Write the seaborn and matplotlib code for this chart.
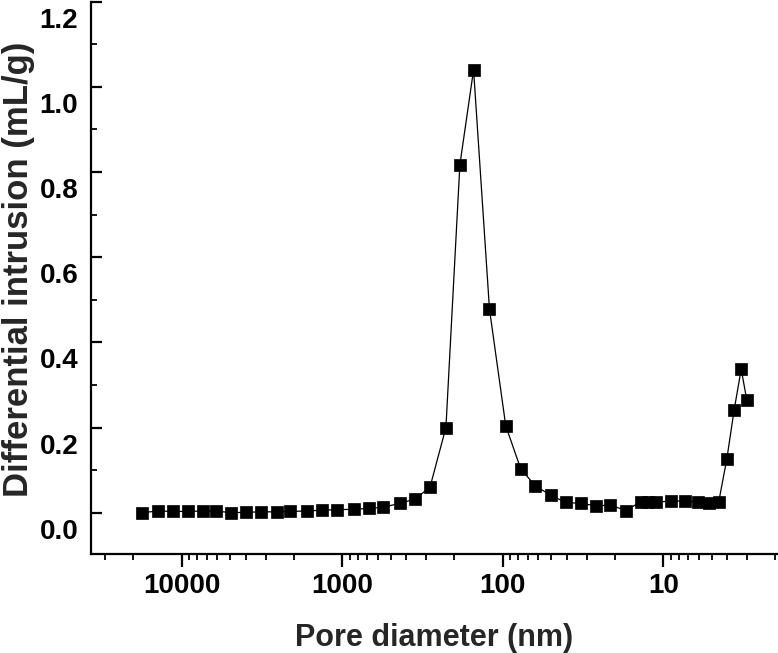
import matplotlib
matplotlib.use("Agg")
import matplotlib.pyplot as plt
import matplotlib.transforms as mtransforms
from matplotlib.ticker import FixedLocator, LogLocator, NullFormatter, MultipleLocator
import seaborn as sns
import pandas as pd

# Data (pore diameter in nm, differential intrusion in mL/g)
pore_diameter = [17750, 13990, 11380, 9100, 7330, 6110, 4950, 3970, 3220, 2560,
                 2110, 1650, 1340, 1080, 844, 677, 555, 437, 352, 284,
                 226, 185, 152, 121, 95.8, 77.3, 62.7, 50.2, 40.5, 32.6,
                 26.2, 21.4, 17.1, 13.8, 12.4, 11.1, 8.98, 7.28, 6.04, 5.21,
                 4.51, 4.02, 3.62, 3.27, 3.02]
intrusion = [0.000, 0.004, 0.003, 0.003, 0.004, 0.004, 0.000, 0.001, 0.002, 0.002,
             0.003, 0.004, 0.006, 0.007, 0.008, 0.010, 0.013, 0.022, 0.032, 0.060,
             0.200, 0.817, 1.040, 0.478, 0.204, 0.103, 0.063, 0.041, 0.024, 0.022,
             0.016, 0.018, 0.005, 0.026, 0.024, 0.024, 0.028, 0.027, 0.026, 0.023,
             0.026, 0.126, 0.241, 0.337, 0.265]

x_ticks = [10000, 1000, 100, 10]
x_tick_labels = ["10000", "1000", "100", "10"]
y_ticks = [0.0, 0.2, 0.4, 0.6, 0.8, 1.0, 1.2]
y_tick_labels = ["0.0", "0.2", "0.4", "0.6", "0.8", "1.0", "1.2"]

df = pd.DataFrame({"d": pore_diameter, "v": intrusion})

sns.set_style("ticks")
plt.rcParams["font.family"] = ["Liberation Sans", "DejaVu Sans"]
plt.rcParams["font.weight"] = "bold"

fig = plt.figure(figsize=(7.78, 6.53), dpi=100)
ax = fig.add_axes([90.7 / 778, 99 / 653, (777 - 90.7) / 778, (554 - 1.7) / 653])

sns.lineplot(data=df, x="d", y="v", ax=ax, sort=False, color="black",
             linewidth=0.9, marker="s", markersize=8.6, markeredgecolor="black",
             markerfacecolor="black", markeredgewidth=0.5)

ax.set_xscale("log")
ax.set_xlim(36900, 1.957)
ax.set_ylim(-0.097, 1.2)

ax.xaxis.set_major_locator(FixedLocator(x_ticks))
ax.set_xticklabels(x_tick_labels)
ax.xaxis.set_minor_locator(LogLocator(base=10, subs=range(2, 10), numticks=20))
ax.xaxis.set_minor_formatter(NullFormatter())

ax.yaxis.set_major_locator(FixedLocator(y_ticks))
ax.set_yticklabels(y_tick_labels)
ax.yaxis.set_minor_locator(MultipleLocator(0.1))

for s in ["top", "right"]:
    ax.spines[s].set_visible(False)
for s in ["left", "bottom"]:
    ax.spines[s].set_linewidth(1.6)
    ax.spines[s].set_color("black")

ax.tick_params(axis="x", which="major", direction="out", length=9, width=1.6,
               labelsize=20, pad=5, colors="black")
ax.tick_params(axis="x", which="minor", direction="out", length=4.5, width=1.3, colors="black")
ax.tick_params(axis="y", which="major", direction="in", length=8, width=1.6,
               labelsize=20, pad=9, colors="black")
ax.tick_params(axis="y", which="minor", direction="in", length=4.5, width=1.3, colors="black")

for lab in ax.get_xticklabels() + ax.get_yticklabels():
    lab.set_fontweight("bold")

offset = mtransforms.ScaledTranslation(0, -16 / 100, fig.dpi_scale_trans)
for t in ax.yaxis.get_major_ticks():
    t.label1.set_transform(t.label1.get_transform() + offset)

ax.set_xlabel("Pore diameter (nm)", fontsize=22, fontweight="bold", labelpad=17)
ax.set_ylabel("Differential intrusion (mL/g)", fontsize=25, fontweight="bold")
ax.yaxis.set_label_coords(-0.081, 0.515)

fig.savefig("out.png", dpi=100, facecolor="white")
